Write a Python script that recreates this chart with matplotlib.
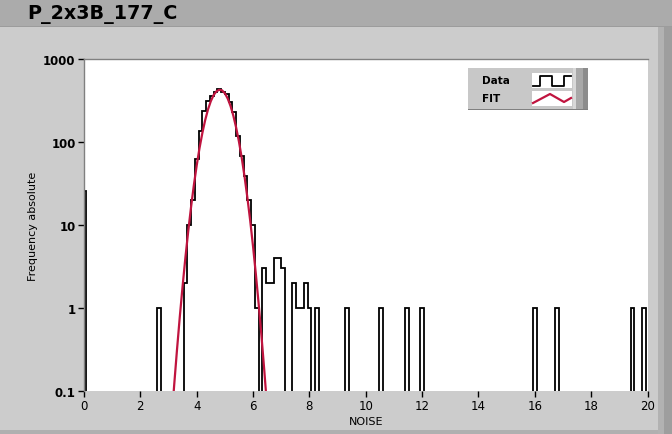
import numpy as np
import matplotlib
matplotlib.use("Agg")
import matplotlib.pyplot as plt
from matplotlib.patches import Rectangle
from matplotlib.lines import Line2D

W, H = 672, 435

# histogram: bin k is centred at k * bin_width, only non-empty bins listed
bin_width = 2 / 15
n_bins = 151
hist_bins = [0, 20, 27, 28, 29, 30, 31, 32, 33, 34, 35, 36, 37, 38, 39, 40,
             41, 42, 43, 44, 45, 46, 48, 49, 50, 51, 52, 53, 56, 57, 58, 59,
             60, 62, 70, 79, 86, 90, 120, 126, 146, 149]
hist_counts = [26, 1, 2, 10, 20, 62, 135, 237, 314, 360, 398, 435, 400, 380, 303, 230,
               119, 68, 39, 20, 10, 1, 3, 2, 2, 4, 4, 3, 2, 1, 1, 2,
               1, 1, 1, 1, 1, 1, 1, 1, 1, 1]

# gaussian fit curve
fit_x = [3.1, 3.2, 3.3, 3.4, 3.5, 3.6, 3.7, 3.8, 3.9, 4.0, 4.1, 4.2, 4.3, 4.4,
         4.5, 4.6, 4.7, 4.8, 4.9, 5.0, 5.1, 5.2, 5.3, 5.4, 5.5, 5.6, 5.7, 5.8,
         5.9, 6.0, 6.1, 6.2, 6.3, 6.4, 6.5]
fit_y = [0.041, 0.117, 0.312, 0.783, 1.84, 4.08, 8.47, 16.5, 30.3, 52.2, 84.5, 128,
         183, 246, 310, 367, 408, 426, 419, 386, 334, 272, 208, 149, 101, 63.8,
         38.0, 21.2, 11.2, 5.51, 2.55, 1.11, 0.455, 0.175, 0.063]

x_ticks = [0, 2, 4, 6, 8, 10, 12, 14, 16, 18, 20]
y_ticks = [0.1, 1, 10, 100, 1000]
y_tick_labels = ["0.1", "1", "10", "100", "1000"]

title = "P_2x3B_177_C"
red = "#c0143f"


def fx(px):
    return px / W


def fy(py):
    return 1 - py / H


def box(x0, y0, x1, y1, color, z=0):
    fig.add_artist(Rectangle((fx(x0), fy(y1)), fx(x1) - fx(x0), fy(y0) - fy(y1),
                             transform=fig.transFigure, facecolor=color,
                             edgecolor="none", zorder=z))


plt.rcParams["font.family"] = ["DejaVu Sans"]
fig = plt.figure(figsize=(W / 100, H / 100), dpi=100)
fig.patch.set_facecolor("#cccccc")

# window chrome
box(0, 0, W, 27, "#ababab")
box(0, 27, W, 28, "#9c9c9c")
box(658, 28, 664, H, "#b2b2b2")
box(664, 28, W, H, "#9e9e9e")
box(0, 431, 658, H, "#b0b0b0")
fig.text(fx(27), fy(14), title, fontsize=13.8, fontweight="bold",
         va="center", ha="left", color="black")

ax = fig.add_axes([fx(84), fy(392), fx(647.5) - fx(84), fy(60) - fy(392)])
ax.set_facecolor("white")

counts = np.zeros(n_bins)
counts[hist_bins] = hist_counts
edges = (np.arange(n_bins + 1) - 0.5) * bin_width
vals = np.where(counts > 0, counts, 1e-3)
ax.stairs(vals, edges, baseline=1e-3, color="black", lw=1.3, zorder=2)
ax.plot(fit_x, fit_y, color=red, lw=1.6, zorder=3)

ax.set_yscale("log")
ax.set_xlim(0, 20)
ax.set_ylim(0.1, 1000)
ax.set_xticks(x_ticks)
ax.set_xticklabels([str(t) for t in x_ticks], fontsize=8.5)
ax.set_yticks(y_ticks)
ax.set_yticklabels(y_tick_labels, fontsize=8.5, fontweight="bold")
ax.minorticks_off()
ax.tick_params(axis="both", direction="out", length=4, width=1, color="black", pad=2)

for side in ["right", "bottom"]:
    ax.spines[side].set_visible(False)
for side in ["left", "top"]:
    ax.spines[side].set_color("#808080")
    ax.spines[side].set_linewidth(1)

ax.set_xlabel("NOISE", fontsize=8, labelpad=3)
ax.set_ylabel("Frequency absolute", fontsize=8, labelpad=3.5)

# legend panel
box(468, 69, 573, 110, "#c8c8c8", 5)
box(573, 69, 576, 110, "#d8d8d8", 5)
box(576, 69, 583, 110, "#a8a8a8", 5)
box(583, 69, 588, 110, "#8c8c8c", 5)
box(468, 110, 588, 111, "#808080", 5)
box(532, 74, 572, 89, "white", 6)
box(532, 92, 572, 107, "white", 6)
fig.text(fx(482), fy(81), "Data", fontsize=7.5, fontweight="bold", va="center", zorder=7)
fig.text(fx(482), fy(99), "FIT", fontsize=7.5, fontweight="bold", va="center", zorder=7)
fig.add_artist(Line2D([fx(533), fx(540), fx(540), fx(552), fx(552), fx(564), fx(564), fx(571)],
                      [fy(87), fy(87), fy(77), fy(77), fy(87), fy(87), fy(77), fy(77)],
                      transform=fig.transFigure, color="black", lw=1.3, zorder=8))
fig.add_artist(Line2D([fx(533), fx(550), fx(564), fx(571)],
                      [fy(104), fy(95), fy(103), fy(99)],
                      transform=fig.transFigure, color=red, lw=1.6, zorder=8))

fig.savefig("out.png", dpi=100, facecolor=fig.get_facecolor())
